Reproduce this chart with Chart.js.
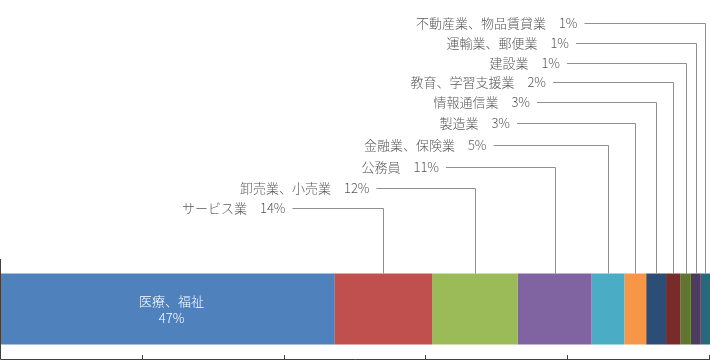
<!DOCTYPE html>
<html>
<head>
<meta charset="utf-8">
<script src="https://cdn.jsdelivr.net/npm/chart.js@4"></script>
<style>
  html, body { margin: 0; padding: 0; background: #fff; }
</style>
</head>
<body>
<canvas id="myChart" width="710" height="360"></canvas>
<script>
let categories = ['医療、福祉', 'サービス業', '卸売業、小売業', '公務員', '金融業、保険業', '製造業', '情報通信業', '教育、学習支援業', '建設業', '運輸業、郵便業', '不動産業、物品賃貸業'];
let values = [47.0, 13.8, 12.1, 10.4, 4.6, 3.1, 2.8, 2.0, 1.5, 1.4, 1.3];
let pctLabels = ['47%', '14%', '12%', '11%', '5%', '3%', '3%', '2%', '1%', '1%', '1%'];
let colors = ['#4F81BD', '#C0504D', '#9BBB59', '#8064A2', '#4BACC6', '#F79646', '#2C4D75', '#772C2A', '#5F7530', '#4D3B62', '#276A7C'];
let xTicks = [0, 20, 40, 60, 80, 100];

// callout rows for segments 2..11 (y of the leader, x where the leader starts)
let rowY = [208, 187.5, 167, 145, 122.5, 101.5, 82, 62.5, 43, 23];
let rowX = [292.5, 376.5, 446, 493.5, 517, 537, 553, 567, 576, 584.5];

const FONT = '300 13px "Noto Sans CJK JP", "Noto Sans", sans-serif';

const callouts = {
    id: 'callouts',
    afterDatasetsDraw(chart) {
        const ctx = chart.ctx;
        const area = chart.chartArea;
        const xs = chart.scales.x;
        ctx.save();
        ctx.font = FONT;
        ctx.textBaseline = 'middle';

        chart.data.datasets.forEach((ds, i) => {
            const bar = chart.getDatasetMeta(i).data[0];
            const cx = (bar.x + bar.base) / 2;
            const top = bar.y - bar.height / 2;
            if (i === 0) {
                ctx.fillStyle = '#ffffff';
                ctx.textAlign = 'center';
                ctx.fillText(categories[i], cx + 4, bar.y - 8);
                ctx.fillText(pctLabels[i], cx + 4, bar.y + 9);
                return;
            }
            const y = Math.round(rowY[i - 1]) + 0.5;
            const sx = rowX[i - 1];
            const lx = Math.round(cx) + 0.5;
            ctx.strokeStyle = '#8f8f8f';
            ctx.lineWidth = 1;
            ctx.beginPath();
            ctx.moveTo(sx, y);
            ctx.lineTo(lx, y);
            ctx.lineTo(lx, top);
            ctx.stroke();
            ctx.fillStyle = '#595959';
            ctx.textAlign = 'right';
            ctx.fillText(categories[i] + '\u3000' + pctLabels[i], sx - 7, y);
        });

        // axes: left line, bottom line, inward tick marks
        ctx.strokeStyle = '#404040';
        ctx.lineWidth = 1;
        ctx.beginPath();
        ctx.moveTo(0.5, area.top);
        ctx.lineTo(0.5, area.bottom + 0.5);
        ctx.lineTo(xs.getPixelForValue(100), area.bottom + 0.5);
        xTicks.slice(1).forEach(v => {
            const tx = Math.round(xs.getPixelForValue(v)) - 0.5;
            ctx.moveTo(tx, area.bottom + 0.5);
            ctx.lineTo(tx, area.bottom - 4);
        });
        ctx.stroke();
        ctx.restore();
    }
};

let myChart = document.getElementById('myChart').getContext('2d');

let chart = new Chart(myChart, {
    type: 'bar',
    data: {
        labels: [''],
        datasets: categories.map((c, i) => ({
            label: c,
            data: [values[i]],
            backgroundColor: colors[i],
            borderWidth: 0,
            barPercentage: 0.71,
            categoryPercentage: 1
        }))
    },
    options: {
        indexAxis: 'y',
        responsive: false,
        animation: false,
        layout: {
            padding: { top: 259, left: 1, right: 0, bottom: 1 }
        },
        scales: {
            x: { stacked: true, min: 0, max: 100, display: false },
            y: { stacked: true, display: false }
        },
        plugins: {
            legend: { display: false },
            tooltip: { enabled: false },
            title: { display: false }
        }
    },
    plugins: [callouts]
});
</script>
</body>
</html>
